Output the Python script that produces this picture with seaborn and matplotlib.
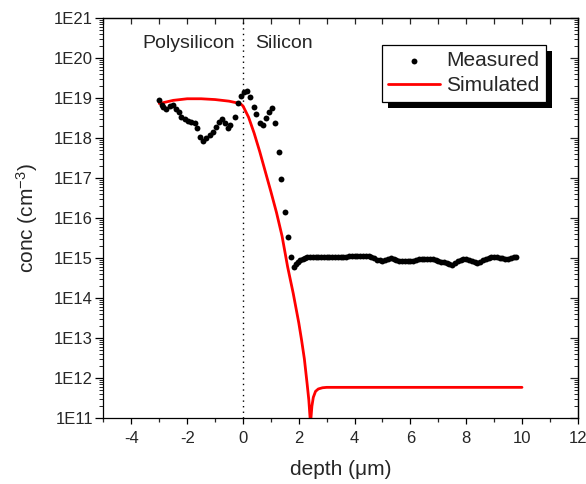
import matplotlib
matplotlib.use("Agg")
import matplotlib.pyplot as plt
import matplotlib.ticker as mticker
from matplotlib.patches import Rectangle
import numpy as np
import pandas as pd
import seaborn as sns

# measured SIMS profile, depth in um, log10 of concentration in cm^-3
meas_depth = [
    -3.01, -2.90, -2.87, -2.77, -2.63, -2.51, -2.39, -2.29, -2.21, -2.09,
    -1.97, -1.85, -1.73, -1.65, -1.55, -1.43, -1.31, -1.19, -1.08, -0.98,
    -0.87, -0.77, -0.66, -0.54, -0.48, -0.30, -0.18, -0.08, 0.03, 0.14,
    0.26, 0.38, 0.48, 0.60, 0.72, 0.81, 0.93, 1.05, 1.16, 1.28,
    1.38, 1.49, 1.61, 1.73,
    1.82, 1.90, 1.98, 2.06, 2.14, 2.22, 2.30, 2.40, 2.50, 2.60,
    2.70, 2.80, 2.90, 3.00, 3.10, 3.20, 3.30, 3.40, 3.50, 3.60,
    3.70, 3.80, 3.90, 4.00, 4.10, 4.20, 4.30, 4.40, 4.50, 4.60,
    4.70, 4.80, 4.90, 5.00, 5.10, 5.20, 5.30, 5.40, 5.50, 5.60,
    5.70, 5.80, 5.90, 6.00, 6.10, 6.20, 6.30, 6.40, 6.50, 6.60,
    6.70, 6.80, 6.90, 7.00, 7.10, 7.20, 7.30, 7.40, 7.50, 7.60,
    7.70, 7.80, 7.90, 8.00, 8.10, 8.20, 8.30, 8.40, 8.50, 8.60,
    8.70, 8.80, 8.90, 9.00, 9.10, 9.20, 9.30, 9.40, 9.50, 9.60,
    9.70, 9.80,
]
meas_log = [
    18.95, 18.82, 18.77, 18.72, 18.80, 18.82, 18.72, 18.66, 18.53, 18.47,
    18.43, 18.41, 18.37, 18.26, 18.02, 17.93, 17.99, 18.07, 18.16, 18.28,
    18.41, 18.47, 18.37, 18.24, 18.33, 18.53, 18.88, 19.06, 19.16, 19.17,
    19.02, 18.77, 18.59, 18.37, 18.33, 18.49, 18.66, 18.74, 18.38, 17.65,
    16.98, 16.14, 15.53, 15.02,
    14.78, 14.84, 14.90, 14.94, 14.97, 15.00, 15.02, 15.03, 15.03, 15.02,
    15.03, 15.03, 15.02, 15.02, 15.02, 15.02, 15.02, 15.03, 15.03, 15.03,
    15.03, 15.04, 15.04, 15.04, 15.05, 15.05, 15.05, 15.05, 15.05, 15.03,
    14.99, 14.96, 14.94, 14.93, 14.95, 14.98, 14.99, 14.97, 14.94, 14.93,
    14.92, 14.92, 14.92, 14.92, 14.93, 14.95, 14.97, 14.98, 14.98, 14.98,
    14.97, 14.97, 14.95, 14.93, 14.91, 14.90, 14.88, 14.85, 14.82, 14.87,
    14.93, 14.96, 14.97, 14.98, 14.96, 14.93, 14.90, 14.88, 14.90, 14.94,
    14.98, 15.00, 15.02, 15.03, 15.03, 15.01, 14.99, 14.97, 14.98, 15.00,
    15.02, 15.02,
]

# simulated profile
sim_depth = [
    -3.0, -2.5, -2.0, -1.5, -1.0, -0.5, -0.1, 0.0, 0.2, 0.4,
    0.6, 0.8, 1.0, 1.2, 1.4, 1.6, 1.8, 2.0, 2.1, 2.2,
    2.3, 2.36, 2.41, 2.43, 2.47, 2.52, 2.6, 2.7, 2.85, 3.0,
    5.0, 7.5, 10.0,
]
sim_log = [
    18.86, 18.94, 18.98, 18.98, 18.96, 18.92, 18.86, 18.80, 18.52, 18.12,
    17.66, 17.16, 16.66, 16.14, 15.55, 14.78, 14.12, 13.38, 12.95, 12.48,
    11.85, 11.45, 10.95, 10.95, 11.30, 11.52, 11.67, 11.73, 11.76, 11.77,
    11.77, 11.77, 11.77,
]

measured = pd.DataFrame({"depth": meas_depth, "conc": 10 ** np.array(meas_log)})
simulated = pd.DataFrame({"depth": sim_depth, "conc": 10 ** np.array(sim_log)})

sns.set_style("ticks")
plt.rcParams["font.family"] = ["Liberation Sans", "DejaVu Sans"]
plt.rcParams["mathtext.fontset"] = "custom"
plt.rcParams["mathtext.rm"] = "Liberation Sans"
plt.rcParams["mathtext.it"] = "Liberation Sans:italic"
plt.rcParams["mathtext.bf"] = "Liberation Sans:bold"
plt.rcParams["axes.unicode_minus"] = False

fig = plt.figure(figsize=(5.86, 4.84), dpi=100)
ax = fig.add_axes([0.1766, 0.136, 0.8094, 0.827])

sns.lineplot(data=simulated, x="depth", y="conc", color="red", lw=2,
             sort=False, ax=ax, label="Simulated", zorder=2)
sns.scatterplot(data=measured, x="depth", y="conc", color="black", s=18,
                linewidth=0, ax=ax, label="Measured", zorder=3)

ax.set_yscale("log")
ax.set_ylim(1e11, 1e21)
ax.set_xlim(-5, 12)
ax.axvline(0, color="black", ls=(0, (1, 3)), lw=1, zorder=1)

ax.text(-0.3, 10 ** 20.37, "Polysilicon", ha="right", va="center", fontsize=14)
ax.text(0.42, 10 ** 20.37, "Silicon", ha="left", va="center", fontsize=14)

ax.set_xlabel("depth (\u03bcm)", fontsize=15, labelpad=10)
ax.set_ylabel("conc (cm$^{-3}$)", fontsize=15, labelpad=10)

for sp in ax.spines.values():
    sp.set_linewidth(0.9)
    sp.set_color("black")

ax.xaxis.set_major_locator(mticker.MultipleLocator(2))
ax.xaxis.set_minor_locator(mticker.MultipleLocator(1))
ax.yaxis.set_major_locator(mticker.LogLocator(base=10, numticks=20))
ax.yaxis.set_minor_locator(mticker.LogLocator(base=10, subs=np.arange(2, 10), numticks=20))
ax.yaxis.set_minor_formatter(mticker.NullFormatter())
ax.yaxis.set_major_formatter(mticker.FuncFormatter(lambda v, p: f"1E{int(round(np.log10(v)))}"))

ax.tick_params(axis="x", which="major", direction="out", length=4.3, width=0.9,
               labelsize=12, pad=5, top=False, color="black")
ax.tick_params(axis="x", which="minor", direction="out", length=3, width=0.9, top=False)
ax.tick_params(axis="y", which="major", direction="out", length=6, width=0.9,
               labelsize=12, pad=1.5, right=False, color="black")
ax.tick_params(axis="y", which="minor", direction="out", length=3, width=0.7, right=False)

top = ax.secondary_xaxis("top")
top.xaxis.set_major_locator(mticker.MultipleLocator(1))
top.tick_params(which="major", direction="in", length=4, width=0.9, labeltop=False)
top.spines["top"].set_linewidth(0.9)

right = ax.secondary_yaxis("right")
right.yaxis.set_major_locator(mticker.LogLocator(base=10, numticks=20))
right.yaxis.set_minor_locator(mticker.LogLocator(base=10, subs=np.arange(2, 10), numticks=20))
right.yaxis.set_minor_formatter(mticker.NullFormatter())
right.tick_params(which="major", direction="in", length=6, width=0.9, labelright=False)
right.tick_params(which="minor", direction="in", length=3, width=0.7, labelright=False)
right.spines["right"].set_linewidth(0.9)

handles, labels = ax.get_legend_handles_labels()
order = [labels.index("Measured"), labels.index("Simulated")]
leg = ax.legend([handles[i] for i in order], [labels[i] for i in order],
                loc="upper right", bbox_to_anchor=(0.9326, 0.9325), borderaxespad=0,
                fontsize=15, frameon=True, fancybox=False, framealpha=1,
                edgecolor="black", handlelength=2.5, handletextpad=0.3,
                borderpad=0.3, labelspacing=0.3, markerscale=1.0)
leg.get_frame().set_linewidth(0.9)
leg.set_zorder(6)

fig.canvas.draw()
bb = leg.get_frame().get_window_extent()
shadow = Rectangle((bb.x0 + 6, bb.y0 - 6), bb.width, bb.height, transform=None,
                   facecolor="black", edgecolor="none", zorder=5, clip_on=False)
ax.add_artist(shadow)

fig.savefig("out.png", dpi=100)
